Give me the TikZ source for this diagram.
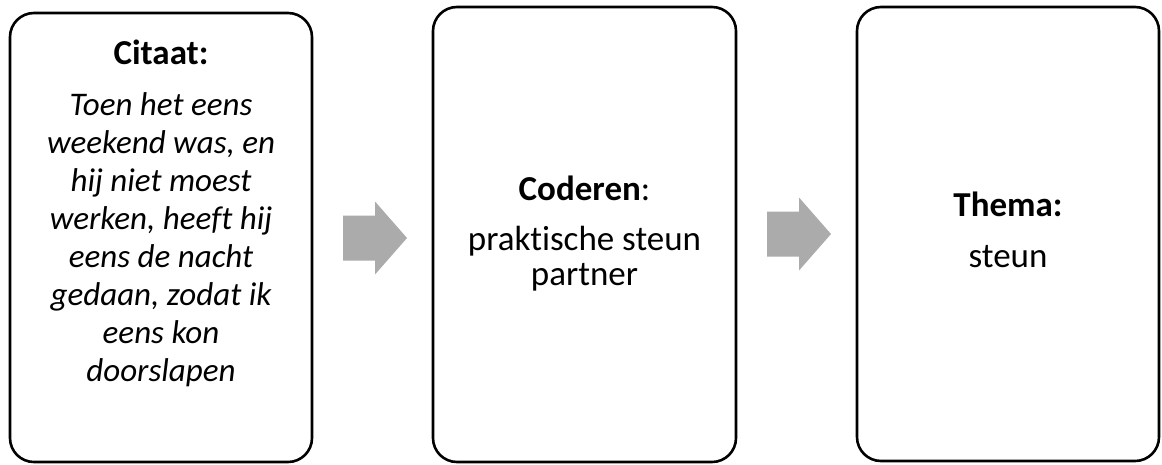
\documentclass[tikz,border=0pt]{standalone}
\usepackage{fontspec}
\setmainfont{Carlito}[Ligatures=NoCommon]
\definecolor{arrowgray}{RGB}{171,171,171}
\begin{document}
\begin{tikzpicture}[x=1pt,y=-1pt,
  box/.style={draw=black, line width=2.6pt, rounded corners=24pt, inner sep=0pt},
  head/.style={inner sep=0pt, anchor=base, font=\fontsize{#1}{#1}\selectfont\bfseries},
  line/.style={inner sep=0pt, anchor=base, font=\fontsize{#1}{#1}\selectfont},
  quote/.style={inner sep=0pt, anchor=base, font=\fontsize{#1}{#1}\selectfont\itshape},
  pics/blockarrow/.style={code={
    \fill[arrowgray] (-32,-22.5) -- (0,-22.5) -- (0,-36.5) -- (32,0)
      -- (0,36.5) -- (0,22.5) -- (-32,22.5) -- cycle;}}]
\useasboundingbox (0,0) rectangle (1162,464);

% the three stages
\node[box, minimum width=302pt, minimum height=449pt] (b1) at (161,237.5) {};
\node[box, minimum width=303pt, minimum height=455pt] (b2) at (584.5,234.5) {};
\node[box, minimum width=302pt, minimum height=454pt] (b3) at (1008,234) {};

% block arrows between the stages
\coordinate (a1) at (375,238);
\coordinate (a2) at (799,234);
\pic at (a1) {blockarrow};
\pic at (a2) {blockarrow};

% quotation
\node[head=35] (q0) at (161,64) {Citaat:};
\foreach \t [count=\i] in {Toen het eens, {weekend was, en}, hij niet moest,
    {werken, heeft hij}, eens de nacht, {gedaan, zodat ik}, eens kon, doorslapen}
  \node[quote=33] (q\i) at (161,{115+38*(\i-1)}) {\t};

% code
\node[line=35] (c0) at (584.5,200) {\textbf{Coderen}:};
\node[line=35] (c1) at (584.5,250) {praktische steun};
\node[line=35] (c2) at (584.5,285) {partner};

% theme
\node[head=35] (t0) at (1008,216) {Thema:};
\node[line=35] (t1) at (1008,267) {steun};
\end{tikzpicture}
\end{document}
